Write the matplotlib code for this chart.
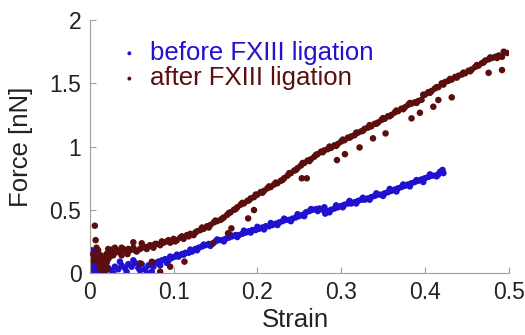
import matplotlib
matplotlib.use("Agg")
import matplotlib.pyplot as plt

plt.rcParams['font.family'] = ['Liberation Sans', 'DejaVu Sans']

# ---- data: before FXIII ligation (blue) ----
before_x = [0.000, 0.001, 0.002, 0.001, 0.002, 0.003, 0.004, 0.003, 0.004, 0.005,
            0.006, 0.007, 0.008, 0.009, 0.006, 0.002, 0.000, 0.005,
            0.010, 0.014, 0.018, 0.022, 0.026, 0.030, 0.034, 0.038, 0.042, 0.046,
            0.050, 0.054, 0.058, 0.062, 0.066, 0.070, 0.074, 0.078, 0.082, 0.086,
            0.090, 0.094, 0.098, 0.102, 0.106, 0.110, 0.114, 0.118, 0.122, 0.126,
            0.130, 0.134, 0.138, 0.142, 0.146, 0.150, 0.154, 0.158, 0.162, 0.166,
            0.170, 0.174, 0.178, 0.182, 0.186, 0.190, 0.194, 0.198, 0.202, 0.206,
            0.210, 0.214, 0.218, 0.222, 0.226, 0.230, 0.234, 0.238, 0.242, 0.246,
            0.250, 0.254, 0.258, 0.262, 0.266, 0.270, 0.274, 0.278, 0.281, 0.284,
            0.288, 0.292, 0.296, 0.300, 0.304, 0.308, 0.312, 0.316, 0.320, 0.324,
            0.328, 0.332, 0.336, 0.340, 0.344, 0.348, 0.352, 0.356, 0.360, 0.364,
            0.368, 0.372, 0.376, 0.380, 0.384, 0.388, 0.392, 0.396, 0.400, 0.404,
            0.408, 0.412, 0.416, 0.420, 0.422,
            0.012, 0.020, 0.028, 0.036, 0.044, 0.052, 0.060, 0.068, 0.076, 0.084,
            0.092, 0.096,
            0.104, 0.112, 0.120, 0.128, 0.136, 0.144, 0.152, 0.160, 0.168, 0.176,
            0.184, 0.192, 0.200, 0.208, 0.216, 0.224, 0.232, 0.240, 0.248, 0.256,
            0.264, 0.272, 0.280, 0.286, 0.294, 0.302, 0.310, 0.318, 0.326, 0.334,
            0.342, 0.350, 0.358, 0.366, 0.374, 0.382, 0.390, 0.398, 0.406, 0.414,
            0.418, 0.421]
before_y = [0.02, 0.06, 0.10, 0.14, 0.18, 0.16, 0.12, 0.08, 0.04, 0.01,
            0.14, 0.09, 0.05, 0.02, 0.17, 0.00, 0.11, 0.07,
            0.01, 0.03, 0.01, 0.04, 0.02, 0.05, 0.03, 0.06, 0.04, 0.07,
            0.05, 0.08, 0.04, 0.07, 0.03, 0.06, 0.01, 0.08, 0.09, 0.10,
            0.11, 0.10, 0.12, 0.13, 0.13, 0.15, 0.16, 0.16, 0.17, 0.19,
            0.20, 0.21, 0.22, 0.23, 0.23, 0.25, 0.26, 0.26, 0.27, 0.28,
            0.29, 0.30, 0.30, 0.31, 0.32, 0.33, 0.34, 0.34, 0.35, 0.36,
            0.37, 0.37, 0.38, 0.39, 0.40, 0.41, 0.42, 0.42, 0.43, 0.44,
            0.45, 0.46, 0.48, 0.49, 0.50, 0.505, 0.51, 0.50, 0.47, 0.49,
            0.50, 0.51, 0.52, 0.53, 0.54, 0.55, 0.55, 0.56, 0.57, 0.58,
            0.58, 0.59, 0.60, 0.61, 0.62, 0.62, 0.63, 0.64, 0.65, 0.66,
            0.67, 0.68, 0.69, 0.70, 0.71, 0.72, 0.73, 0.74, 0.75, 0.76,
            0.77, 0.77, 0.78, 0.80, 0.79,
            0.06, 0.08, 0.00, 0.09, 0.01, 0.10, 0.02, 0.00, 0.05, 0.06,
            0.08, 0.13,
            0.145, 0.145, 0.185, 0.18, 0.225, 0.215, 0.265, 0.25, 0.30, 0.285,
            0.335, 0.32, 0.365, 0.345, 0.395, 0.38, 0.43, 0.41, 0.465, 0.45,
            0.505, 0.49, 0.52, 0.48, 0.535, 0.52, 0.57, 0.55, 0.595, 0.58,
            0.63, 0.61, 0.665, 0.645, 0.70, 0.685, 0.735, 0.72, 0.78, 0.765,
            0.80, 0.815]

# ---- data: after FXIII ligation (dark red) ----
after_x = [0.006, 0.007, 0.004, 0.005, 0.008, 0.009, 0.010, 0.011, 0.012, 0.013,
           0.014, 0.015, 0.016, 0.017, 0.018, 0.019, 0.020, 0.021, 0.022, 0.024,
           0.026, 0.028, 0.030, 0.038, 0.045,
           0.052, 0.062, 0.060, 0.074, 0.084, 0.096, 0.113,
           0.147, 0.165, 0.169, 0.189, 0.196, 0.253, 0.259, 0.295, 0.3045, 0.322,
           0.338, 0.353, 0.384, 0.394, 0.410, 0.416, 0.432, 0.476, 0.492,
           0.020, 0.024, 0.028, 0.032, 0.036, 0.040, 0.044, 0.048, 0.052, 0.056,
           0.060, 0.064, 0.068, 0.072, 0.076, 0.080, 0.084, 0.088, 0.092, 0.096,
           0.100, 0.104, 0.108, 0.112, 0.116, 0.120, 0.124, 0.128, 0.132, 0.136,
           0.140, 0.144, 0.148, 0.152, 0.156, 0.160, 0.164, 0.168, 0.172, 0.176,
           0.180, 0.184, 0.188, 0.192, 0.196, 0.200, 0.204, 0.208, 0.212, 0.216,
           0.220, 0.224, 0.228, 0.232, 0.236, 0.240, 0.244, 0.248, 0.252, 0.256,
           0.260, 0.264, 0.268, 0.272, 0.276, 0.280, 0.284, 0.288, 0.292, 0.296,
           0.300, 0.304, 0.308, 0.312, 0.316, 0.320, 0.324, 0.328, 0.332, 0.336,
           0.340, 0.344, 0.348, 0.352, 0.356, 0.360, 0.364, 0.368, 0.372, 0.376,
           0.380, 0.384, 0.388, 0.392, 0.396, 0.400, 0.404, 0.408, 0.412, 0.416,
           0.420, 0.424, 0.428, 0.432, 0.436, 0.440, 0.444, 0.448, 0.452, 0.456,
           0.460, 0.464, 0.468, 0.472, 0.476, 0.480, 0.484, 0.488, 0.492, 0.498,
           0.022, 0.030, 0.038, 0.046, 0.054, 0.062, 0.070, 0.078, 0.086, 0.094,
           0.102, 0.110, 0.118, 0.126, 0.134, 0.142, 0.150, 0.158, 0.166, 0.174,
           0.182, 0.190, 0.198, 0.206, 0.214, 0.222, 0.230, 0.238, 0.246, 0.254,
           0.262, 0.270, 0.278, 0.286, 0.294, 0.302, 0.310, 0.318, 0.326, 0.334,
           0.342, 0.350, 0.358, 0.366, 0.374, 0.382, 0.390, 0.398, 0.406, 0.414,
           0.422, 0.430, 0.438, 0.446, 0.454, 0.462, 0.470, 0.478, 0.486, 0.494]
after_y = [0.374, 0.26, 0.15, 0.10, 0.20, 0.12, 0.18, 0.08, 0.04, 0.14,
           0.10, 0.06, 0.02, 0.12, 0.00, 0.05, 0.09, 0.03, 0.11, 0.13,
           0.16, 0.19, 0.20, 0.14, 0.15,
           0.243, 0.235, 0.077, 0.089, 0.01, 0.05, 0.09,
           0.235, 0.314, 0.353, 0.432, 0.498, 0.749, 0.749, 0.893, 0.94, 0.993,
           1.065, 1.104, 1.223, 1.267, 1.315, 1.368, 1.389, 1.583, 1.605,
           0.15, 0.17, 0.14, 0.18, 0.16, 0.19, 0.17, 0.18, 0.20, 0.17,
           0.19, 0.21, 0.19, 0.22, 0.20, 0.23, 0.22, 0.24, 0.25, 0.24,
           0.27, 0.26, 0.28, 0.27, 0.30, 0.31, 0.30, 0.33, 0.34, 0.35,
           0.37, 0.38, 0.40, 0.41, 0.42, 0.44, 0.46, 0.48, 0.50, 0.52,
           0.54, 0.55, 0.57, 0.59, 0.60, 0.62, 0.64, 0.65, 0.67, 0.68,
           0.70, 0.71, 0.73, 0.75, 0.77, 0.79, 0.81, 0.83, 0.85, 0.87,
           0.89, 0.90, 0.92, 0.94, 0.96, 0.97, 0.98, 0.99, 1.01, 1.02,
           1.04, 1.05, 1.07, 1.08, 1.09, 1.11, 1.12, 1.14, 1.15, 1.16,
           1.18, 1.19, 1.21, 1.22, 1.24, 1.25, 1.27, 1.28, 1.30, 1.31,
           1.33, 1.34, 1.35, 1.36, 1.37, 1.41, 1.43, 1.44, 1.46, 1.47,
           1.50, 1.51, 1.52, 1.53, 1.55, 1.56, 1.57, 1.58, 1.60, 1.61,
           1.63, 1.64, 1.66, 1.68, 1.69, 1.70, 1.71, 1.72, 1.71, 1.74,
           0.19, 0.16, 0.20, 0.19, 0.18, 0.20, 0.21, 0.23, 0.25, 0.26,
           0.25, 0.29, 0.29, 0.32, 0.36, 0.36, 0.415, 0.43, 0.475, 0.505,
           0.555, 0.575, 0.62, 0.635, 0.685, 0.715, 0.735, 0.79, 0.815, 0.87,
           0.885, 0.935, 0.955, 1.00, 1.005, 1.055, 1.07, 1.11, 1.125, 1.17,
           1.18, 1.225, 1.24, 1.285, 1.295, 1.345, 1.345, 1.41, 1.425, 1.47,
           1.49, 1.535, 1.545, 1.585, 1.595, 1.645, 1.665, 1.705, 1.70, 1.75]

labels = ["before FXIII ligation", "after FXIII ligation"]
x_ticks = [0, 0.1, 0.2, 0.3, 0.4, 0.5]
x_ticklabels = ["0", "0.1", "0.2", "0.3", "0.4", "0.5"]
y_ticks = [0, 0.5, 1, 1.5, 2]
y_ticklabels = ["0", "0.5", "1", "1.5", "2"]

blue = "#2010d0"
red = "#5a0e0e"
txt = "#222222"

fig = plt.figure(figsize=(5.25, 3.35), dpi=100)
ax = fig.add_axes([0.171, 0.185, 0.798, 0.755])

ax.scatter(before_x, before_y, s=22, color=blue, edgecolors='none', label=labels[0], zorder=2)
ax.scatter(after_x, after_y, s=22, color=red, edgecolors='none', label=labels[1], zorder=3)

ax.set_xlim(0, 0.5)
ax.set_ylim(0, 2)
ax.set_xticks(x_ticks)
ax.set_xticklabels(x_ticklabels)
ax.set_yticks(y_ticks)
ax.set_yticklabels(y_ticklabels)
ax.tick_params(direction='in', length=4, width=0.8, color='#a0a0a0', labelsize=16.5,
               labelcolor=txt, pad=6)
for s in ['top', 'right']:
    ax.spines[s].set_visible(False)
for s in ['left', 'bottom']:
    ax.spines[s].set_color('#a0a0a0')
    ax.spines[s].set_linewidth(0.8)

ax.set_xlabel("Strain", fontsize=18.5, color=txt)
ax.set_ylabel("Force [nN]", fontsize=18.5, color=txt)
ax.xaxis.set_label_coords(0.49, -0.14)
ax.yaxis.set_label_coords(-0.135, 0.5)

leg = ax.legend(loc='upper left', bbox_to_anchor=(0.027, 0.978), frameon=False, fontsize=18.5,
                markerscale=0.6, handletextpad=0.3, labelspacing=0.05,
                labelcolor=[blue, red], handlelength=1.0, borderaxespad=0.2)

fig.savefig("out.png", dpi=100)
